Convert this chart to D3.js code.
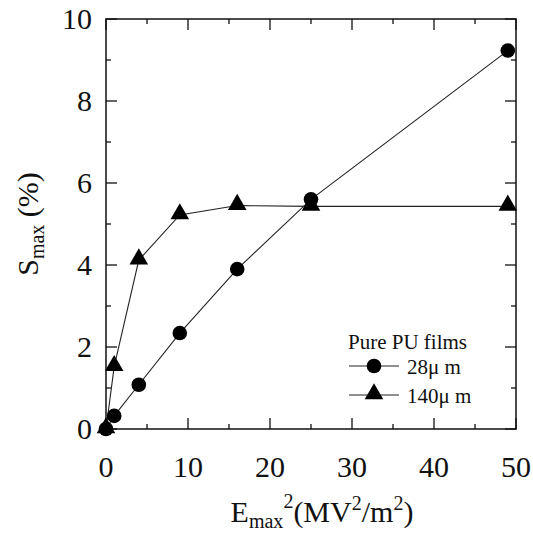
<!DOCTYPE html>
<html><head><meta charset="utf-8">
<script src="https://cdn.jsdelivr.net/npm/d3@7/dist/d3.min.js"></script>
<style>body{margin:0;background:#fff}svg{display:block}</style>
</head><body>
<svg id="c" width="533" height="535"></svg>
<script>
const xValues = [0, 1, 4, 9, 16, 25, 49];
const s28 = [0, 0.32, 1.08, 2.34, 3.9, 5.6, 9.23];
const s140 = [0, 1.52, 4.12, 5.22, 5.45, 5.43, 5.43];
const xTicks = [0, 10, 20, 30, 40, 50];
const yTicks = [0, 2, 4, 6, 8, 10];
const legendTitle = "Pure PU films";
const seriesNames = ["28\u03bc m", "140\u03bc m"];

const svg = d3.select("#c");
const L = 106, R = 516, T = 19, B = 429;
const x = d3.scaleLinear().domain([0, 50]).range([L, R]);
const y = d3.scaleLinear().domain([0, 10]).range([B, T]);

const minorX = d3.range(0, 51, 5), minorY = d3.range(0, 11, 1);
const g = svg.append("g").attr("fill", "#111");
function txt(sel) { return sel.append("text").style("font-family", "Liberation Serif"); }
function tickLen(v, step) { return (v % step === 0) ? 11 : 5; }
minorX.forEach(v => {
  const l = tickLen(v, 10);
  g.append("line").attr("x1", x(v)).attr("x2", x(v)).attr("y1", B).attr("y2", B - l).attr("stroke", "#111").attr("stroke-width", 1.3);
  g.append("line").attr("x1", x(v)).attr("x2", x(v)).attr("y1", T).attr("y2", T + l).attr("stroke", "#111").attr("stroke-width", 1.3);
});
minorY.forEach(v => {
  const l = tickLen(v, 2);
  g.append("line").attr("x1", L).attr("x2", L + l).attr("y1", y(v)).attr("y2", y(v)).attr("stroke", "#111").attr("stroke-width", 1.3);
  g.append("line").attr("x1", R).attr("x2", R - l).attr("y1", y(v)).attr("y2", y(v)).attr("stroke", "#111").attr("stroke-width", 1.3);
});
g.append("rect").attr("x", L).attr("y", T).attr("width", R - L).attr("height", B - T)
  .attr("fill", "none").attr("stroke", "#111").attr("stroke-width", 1.5);

xTicks.forEach(v => txt(g).attr("x", x(v)).attr("y", 477).attr("text-anchor", "middle")
  .attr("font-size", 30).text(v));
yTicks.forEach(v => txt(g).attr("x", 92).attr("y", y(v) + 10).attr("text-anchor", "end")
  .attr("font-size", 30).text(v));

const xt = txt(g).attr("x", 322).attr("y", 522).attr("text-anchor", "middle").attr("font-size", 30);
xt.append("tspan").text("E");
xt.append("tspan").attr("font-size", 20).attr("dy", 6).text("max");
xt.append("tspan").attr("font-size", 20).attr("dy", -20).text("2");
xt.append("tspan").attr("dy", 14).text("(MV");
xt.append("tspan").attr("font-size", 20).attr("dy", -12).text("2");
xt.append("tspan").attr("dy", 12).text("/m");
xt.append("tspan").attr("font-size", 20).attr("dy", -12).text("2");
xt.append("tspan").attr("dy", 12).text(")");

const yt = txt(g).attr("transform", "translate(38,224) rotate(-90)").attr("text-anchor", "middle").attr("font-size", 30);
yt.append("tspan").text("S");
yt.append("tspan").attr("font-size", 20).attr("dy", 6).text("max");
yt.append("tspan").attr("dy", -6).text(" (%)");

const line = d3.line().x(d => x(d[0])).y(d => y(d[1]));
const d28 = xValues.map((v, i) => [v, s28[i]]);
const d140 = xValues.map((v, i) => [v, s140[i]]);
g.append("path").attr("d", line(d28)).attr("fill", "none").attr("stroke", "#222").attr("stroke-width", 1.1);
g.append("path").attr("d", line(d140)).attr("fill", "none").attr("stroke", "#222").attr("stroke-width", 1.1);
const circ = d3.symbol().type(d3.symbolCircle).size(Math.PI * 7.3 * 7.3);
const tri = d3.symbol().type(d3.symbolTriangle).size(150);
g.selectAll(".c28").data(d28).join("path").attr("d", circ)
  .attr("transform", d => `translate(${x(d[0])},${y(d[1])})`).attr("fill", "#000");
g.selectAll(".t140").data(d140).join("path").attr("d", tri)
  .attr("transform", d => `translate(${x(d[0])},${y(d[1]) - 1})`).attr("fill", "#000");

txt(g).attr("x", 348).attr("y", 349).attr("font-size", 21).text(legendTitle);
[0, 1].forEach(i => {
  const yy = 366 + i * 29;
  g.append("line").attr("x1", 349).attr("x2", 399).attr("y1", yy).attr("y2", yy).attr("stroke", "#222").attr("stroke-width", 1.2);
  g.append("path").attr("d", i === 0 ? circ : tri).attr("transform", `translate(374,${yy - (i ? 1 : 0)})`).attr("fill", "#000");
  txt(g).attr("x", 407).attr("y", yy + 8).attr("font-size", 21).text(seriesNames[i]);
});
</script>
</body></html>
